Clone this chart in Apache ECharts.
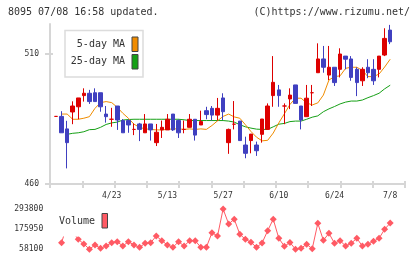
<!DOCTYPE html>
<html>
<head>
<meta charset="utf-8">
<title>8095 chart</title>
<script src="https://cdn.jsdelivr.net/npm/echarts@6.0.0/dist/echarts.min.js"></script>
<style>html,body{margin:0;padding:0;background:#fff;}</style>
</head>
<body>
<div id="main" style="width:420px;height:259px;"></div>
<script type="text/javascript">
// daily prices (index 0 .. 60)
var opens  = [486.0,486.0,481.2,487.7,489.7,494.0,494.9,495.1,495.1,486.9,484.9,490.0,484.4,484.4,481.0,483.1,479.7,483.1,475.9,480.8,
              480.8,486.9,484.4,481.0,481.8,484.9,482.7,488.2,489.1,486.5,493.1,475.9,483.0,484.2,475.0,476.7,475.0,479.1,481.0,494.0,
              496.2,490.0,492.7,498.1,490.0,485.9,495.1,502.8,508.1,501.9,504.9,504.1,509.2,508.1,504.1,499.7,504.9,504.1,504.1,509.6,519.2];
var closes = [486.0,479.7,475.9,490.0,493.1,494.9,491.7,491.7,489.7,485.9,484.9,484.6,479.7,482.7,481.0,481.0,483.1,480.8,479.9,481.8,
              484.9,480.8,479.7,481.0,484.9,478.8,484.0,486.7,486.5,489.1,487.8,481.0,483.0,476.7,471.8,479.2,472.8,485.0,490.0,499.1,
              494.0,490.0,494.2,491.0,484.6,493.0,495.1,508.1,504.9,504.9,499.0,510.0,508.0,501.0,499.0,504.1,502.8,499.7,509.2,516.0,514.7];
var lows   = [486.0,479.7,466.0,483.0,484.9,491.7,490.8,491.7,487.8,483.6,482.0,480.8,479.7,479.7,478.8,476.5,479.7,476.7,474.6,477.7,
              480.8,480.4,477.7,479.5,481.8,476.7,482.7,484.9,484.4,484.4,484.6,471.6,481.0,476.7,469.9,471.8,470.8,475.9,481.0,489.7,
              489.7,483.0,488.8,491.0,481.0,485.9,490.0,502.8,502.8,500.0,497.7,501.0,504.1,499.7,493.8,497.7,500.7,498.1,501.0,509.2,513.8];
var highs  = [486.0,488.0,484.3,491.8,493.1,496.8,496.2,496.8,495.1,490.0,489.3,490.0,485.0,484.9,483.3,483.5,486.9,483.1,483.1,484.4,
              486.9,486.9,484.9,484.4,486.9,484.9,488.2,489.7,490.0,493.1,494.9,481.3,491.9,484.2,478.2,479.2,476.3,485.0,491.0,509.2,
              498.1,491.0,496.8,498.1,490.0,498.1,498.1,514.1,513.1,513.1,504.9,512.2,509.2,509.2,504.9,504.9,508.0,508.0,509.2,519.9,521.2];

// moving averages
var ma5  = [null,486.9,486.9,484.9,484.9,485.3,485.9,489.1,491.3,491.7,491.3,489.5,487.2,485.3,483.0,481.8,481.2,481.0,480.8,480.8,
            481.0,481.2,481.2,481.0,481.2,481.0,481.2,481.0,482.5,484.3,486.0,486.9,485.8,485.3,482.8,480.2,478.0,476.6,476.8,479.6,
            483.5,487.0,490.6,493.0,493.0,491.2,490.4,491.2,494.2,500.0,501.3,501.6,504.5,504.9,504.9,503.7,501.3,501.3,502.3,505.0,508.0];
var ma25 = [null,null,479.1,479.5,479.7,480.1,480.9,481.0,481.8,482.9,483.5,483.8,484.6,484.8,484.9,484.9,484.9,484.9,484.9,484.9,
            484.9,484.9,484.9,484.7,484.4,484.4,484.4,484.4,484.4,484.4,484.4,484.2,483.8,482.8,482.0,481.5,481.1,481.0,481.0,482.0,
            483.0,483.3,484.0,484.2,484.2,484.9,485.7,486.2,487.8,488.9,489.8,490.8,491.5,491.9,491.9,492.3,493.2,494.0,494.9,496.6,498.0];

// volume
var volume = [null,96700,200000,160000,116600,89100,59000,83300,64000,77400,96700,102600,77400,102600,83300,69800,93200,96700,135900,108400,
              83300,69800,102600,77400,108400,108400,69800,69800,155200,135900,293800,206100,234200,146400,116600,99000,69800,95000,166900,234200,
              122400,75600,97900,58100,64000,87900,61000,210200,110700,151700,93200,108400,77400,93200,122400,77400,87900,104900,122400,175100,211900];

// axis labels
var dateLabels = ['4/23', '5/13', '5/27', '6/10', '6/24', '7/8'];
var dateIdx = [10, 20, 30, 40, 50, 60];
var priceTicks = [460, 510];
var volTicks = [58100, 175950, 293800];

var myChart = echarts.init(document.getElementById('main'), null, {renderer: 'canvas'});

var days = opens.map(function (v, i) { return i; });
var candles = opens.map(function (o, i) { return [o, closes[i], lows[i], highs[i]]; });

var font = 'DejaVu Sans Mono';
var gray = '#d6d6d6';
var red = '#dd0000';
var blue = '#4040c0';
var txt = {fontFamily: font, fontSize: 10, color: '#333', fontWeight: 'normal'};

var option = {
    animation: false,
    backgroundColor: '#fff',
    title: [
        {text: '8095 07/08 16:58 updated.', left: 8, top: 7, padding: 0, textStyle: txt},
        {text: '(C)https://www.rizumu.net/', right: 10, top: 7, padding: 0, textStyle: txt}
    ],
    grid: [
        {left: 50, top: 24, width: 355, height: 160, outerBoundsMode: 'none'},
        {left: 53.2, top: 24, width: 339.8, height: 160, outerBoundsMode: 'none'},
        {left: 53.2, top: 209, width: 339.8, height: 40.3, outerBoundsMode: 'none'}
    ],
    xAxis: [
        {
            gridIndex: 0, type: 'value', min: 0, max: 11, interval: 1,
            axisLine: {lineStyle: {color: gray, width: 2}},
            axisTick: {length: 4, lineStyle: {color: gray, width: 2}},
            axisLabel: {show: false},
            splitLine: {show: false}
        },
        {
            gridIndex: 0, type: 'value', position: 'bottom', min: 0, max: 11, interval: 1,
            axisLine: {show: false},
            axisTick: {inside: true, length: 3, lineStyle: {color: gray, width: 2}},
            axisLabel: {show: false},
            splitLine: {show: false}
        },
        {
            gridIndex: 1, type: 'category', data: days, boundaryGap: true,
            axisLine: {show: false},
            axisTick: {show: false},
            splitLine: {show: false},
            axisLabel: {
                margin: 8, fontFamily: font, fontSize: 8, color: '#333',
                interval: function (i) { return dateIdx.indexOf(i) >= 0; },
                formatter: function (v, i) {
                    var k = dateIdx.indexOf(i);
                    return k >= 0 ? dateLabels[k] : '';
                }
            }
        },
        {gridIndex: 2, type: 'category', data: days, boundaryGap: true, show: false}
    ],
    yAxis: [
        {
            gridIndex: 0, type: 'value', position: 'left', min: 460, max: 521.54,
            axisLine: {show: true, lineStyle: {color: gray, width: 2}},
            axisTick: {show: true, length: 5, customValues: priceTicks, lineStyle: {color: gray, width: 2}},
            axisLabel: {customValues: priceTicks, margin: 11, fontFamily: font, fontSize: 8, color: '#333'},
            splitLine: {show: false}
        },
        {
            gridIndex: 0, type: 'value', position: 'left', min: 460, max: 521.54,
            axisLine: {show: false},
            axisTick: {show: true, inside: true, length: 3, customValues: [510], lineStyle: {color: gray, width: 2}},
            axisLabel: {show: false},
            splitLine: {show: false}
        },
        {gridIndex: 1, type: 'value', min: 460, max: 521.54, show: false},
        {
            gridIndex: 2, type: 'value', min: 58100, max: 293800,
            axisLine: {show: false},
            axisTick: {show: false},
            axisLabel: {
                customValues: volTicks, margin: 10, fontFamily: font, fontSize: 8, color: '#333',
                formatter: function (v) { return String(v); }
            },
            splitLine: {show: false}
        }
    ],
    series: [
        {
            name: '25-day MA', type: 'line', xAxisIndex: 2, yAxisIndex: 2, data: ma25,
            showSymbol: false, symbol: 'none', z: 2,
            lineStyle: {color: '#16a016', width: 1}
        },
        {
            name: '5-day MA', type: 'line', xAxisIndex: 2, yAxisIndex: 2, data: ma5,
            showSymbol: false, symbol: 'none', z: 2,
            lineStyle: {color: '#f08c00', width: 1}
        },
        {
            name: 'price', type: 'candlestick', xAxisIndex: 2, yAxisIndex: 2, data: candles,
            barWidth: 4, z: 3,
            itemStyle: {
                color: red, color0: blue,
                borderColor: red, borderColor0: blue, borderColorDoji: red,
                borderWidth: 1
            }
        },
        {
            name: 'Volume', type: 'line', xAxisIndex: 3, yAxisIndex: 3, data: volume,
            symbol: 'diamond', symbolSize: 7, showSymbol: true, showAllSymbol: true, z: 2,
            lineStyle: {color: '#ff5a64', width: 1},
            itemStyle: {color: '#ff5a64'}
        }
    ],
    graphic: [
        // price legend
        {type: 'rect', z: 100, shape: {x: 65, y: 30.5, width: 78, height: 46.5},
            style: {fill: '#fff', stroke: '#dcdcdc', lineWidth: 1.5}},
        {type: 'text', z: 101, x: 125, y: 44, style: {text: '5-day MA', fill: '#333', font: '10px "DejaVu Sans Mono"', align: 'right', verticalAlign: 'middle'}},
        {type: 'text', z: 101, x: 125, y: 61.5, style: {text: '25-day MA', fill: '#333', font: '10px "DejaVu Sans Mono"', align: 'right', verticalAlign: 'middle'}},
        {type: 'rect', z: 101, shape: {x: 132, y: 37, width: 6, height: 14.5}, style: {fill: '#f08c00', stroke: '#444', lineWidth: 1}},
        {type: 'rect', z: 101, shape: {x: 132, y: 54.5, width: 6, height: 14.5}, style: {fill: '#16a016', stroke: '#444', lineWidth: 1}},
        // volume legend
        {type: 'rect', z: 100, shape: {x: 55, y: 205, width: 58, height: 31.5}, style: {fill: '#fff'}},
        {type: 'text', z: 101, x: 59, y: 221.5, style: {text: 'Volume', fill: '#333', font: '10px "DejaVu Sans Mono"', align: 'left', verticalAlign: 'middle'}},
        {type: 'rect', z: 101, shape: {x: 102, y: 213.5, width: 5.5, height: 14.5}, style: {fill: '#ff5a64', stroke: '#444', lineWidth: 1}}
    ]
};

myChart.setOption(option);
</script>
</body>
</html>
